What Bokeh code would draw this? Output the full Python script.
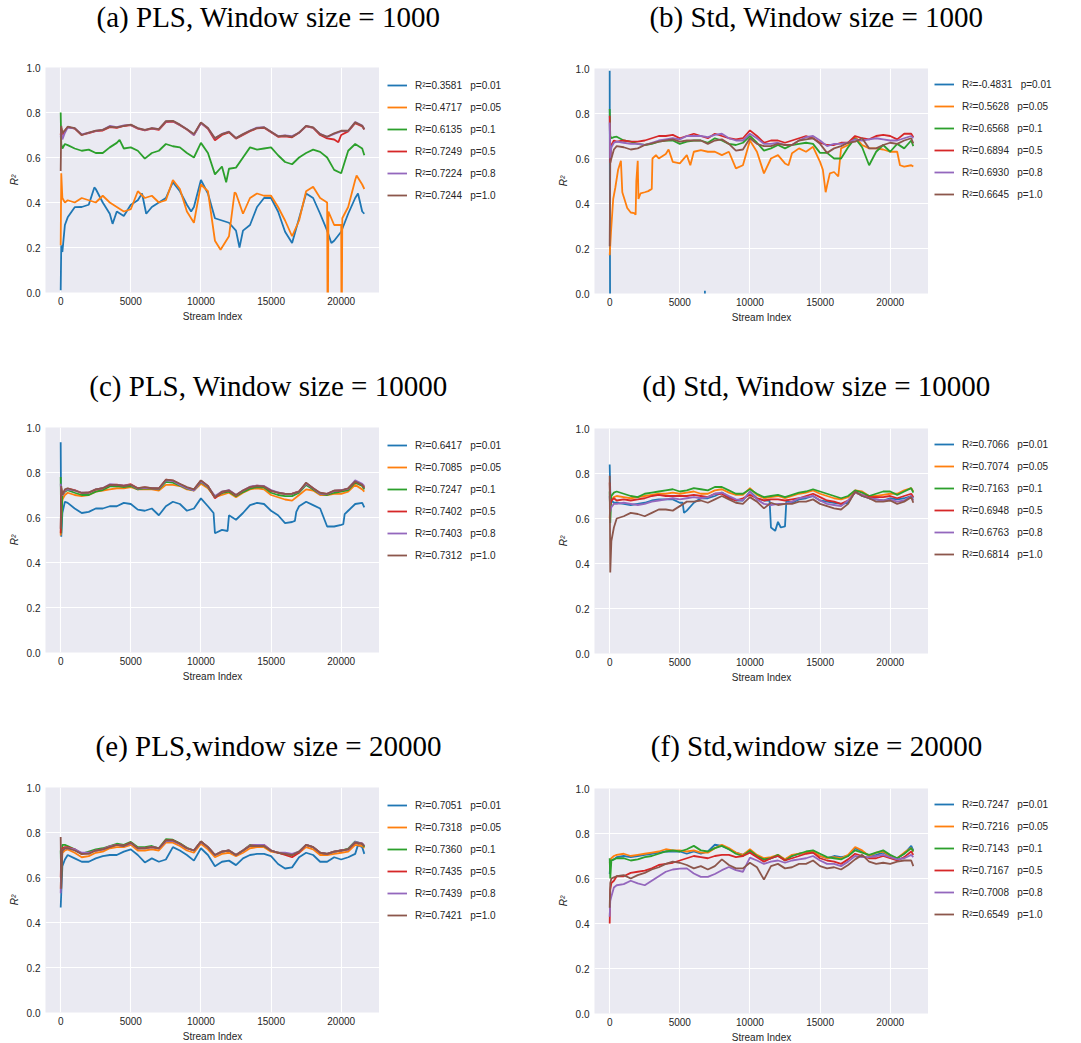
from bokeh.plotting import figure
from bokeh.models import Legend, LegendItem, Range1d, FixedTicker, NumeralTickFormatter
from bokeh.core.properties import value
from bokeh.layouts import column, row
from bokeh.embed import file_html
from bokeh.resources import INLINE

# ---------------------------------------------------------------------------
# Data: R^2 of the streaming regression versus stream index, for six sampling
# probabilities p, two methods (PLS / Std) and three window sizes.
# Most series are sampled on a common stream-index grid; sharp jumps are added
# as extra (index, value) points.
# ---------------------------------------------------------------------------
GRID = [0, 40, 120, 300] + list(range(500, 21501, 500)) + [21650]

P_VALUES = ["0.01", "0.05", "0.1", "0.5", "0.8", "1.0"]
COLORS = ["#1f77b4", "#ff7f0e", "#2ca02c", "#d62728", "#9467bd", "#8c564b"]

TITLES = ["(a) PLS, Window size = 1000", "(b) Std, Window size = 1000",
          "(c) PLS, Window size = 10000", "(d) Std, Window size = 10000",
          "(e) PLS,window size = 20000", "(f) Std,window size = 20000"]

A_R2 = ["0.3581", "0.4717", "0.6135", "0.7249", "0.7224", "0.7244"]
B_R2 = ["-0.4831", "0.5628", "0.6568", "0.6894", "0.6930", "0.6645"]
C_R2 = ["0.6417", "0.7085", "0.7247", "0.7402", "0.7403", "0.7312"]
D_R2 = ["0.7066", "0.7074", "0.7163", "0.6948", "0.6763", "0.6814"]
E_R2 = ["0.7051", "0.7318", "0.7360", "0.7435", "0.7439", "0.7421"]
F_R2 = ["0.7247", "0.7216", "0.7143", "0.7167", "0.7008", "0.6549"]

# (a) PLS, window 1000
A_P001 = [0.01, 0.21, 0.18, 0.30, 0.334, 0.379, 0.38, 0.39, 0.46, 0.40, 0.35, 0.36, 0.34, 0.39,
          0.41, 0.38, 0.38, 0.40, 0.42, 0.49, 0.45, 0.39, 0.38, 0.50, 0.44, 0.33, 0.32, 0.31,
          0.275, 0.275, 0.30, 0.38, 0.42, 0.42, 0.36, 0.27, 0.22, 0.33, 0.44, 0.42, 0.35, 0.275,
          0.23, 0.27, 0.35, 0.42, 0.36, 0.35]
A_P001_EXTRA = [(2400, 0.467), (3700, 0.305), (5800, 0.44), (6100, 0.35), (9300, 0.36),
                (12750, 0.20), (19300, 0.22), (21200, 0.44)]
A_P005 = [0.21, 0.53, 0.42, 0.40, 0.41, 0.40, 0.42, 0.41, 0.40, 0.43, 0.40, 0.38, 0.36, 0.37,
          0.45, 0.42, 0.43, 0.40, 0.41, 0.50, 0.46, 0.36, 0.31, 0.48, 0.45, 0.23, 0.20, 0.25,
          0.44, 0.35, 0.42, 0.44, 0.43, 0.43, 0.38, 0.32, 0.25, 0.32, 0.45, 0.47, 0.42, 0.40,
          0.30, 0.30, 0.38, 0.50, 0.48, 0.46]
A_P005_EXTRA = [(11400, 0.19), (12400, 0.445), (19040, -0.3), (19090, 0.36),
                (20030, -0.3), (20080, 0.33), (21100, 0.52)]
A_P01 = [0.80, 0.66, 0.64, 0.66, 0.655, 0.64, 0.63, 0.635, 0.62, 0.62, 0.645, 0.665, 0.64, 0.645,
         0.63, 0.595, 0.62, 0.63, 0.66, 0.65, 0.645, 0.62, 0.60, 0.665, 0.62, 0.525, 0.56, 0.55,
         0.555, 0.60, 0.645, 0.635, 0.64, 0.645, 0.61, 0.58, 0.57, 0.60, 0.62, 0.635, 0.625, 0.60,
         0.545, 0.53, 0.63, 0.66, 0.64, 0.61]
A_P01_EXTRA = [(4200, 0.678), (11800, 0.49)]
A_P05 = [0.70, 0.73, 0.70, 0.72, 0.735, 0.728, 0.70, 0.708, 0.717, 0.72, 0.735, 0.732, 0.74, 0.744,
         0.728, 0.72, 0.728, 0.723, 0.757, 0.76, 0.743, 0.724, 0.70, 0.753, 0.728, 0.676, 0.70,
         0.712, 0.684, 0.70, 0.717, 0.73, 0.732, 0.712, 0.692, 0.694, 0.69, 0.71, 0.738, 0.732,
         0.70, 0.685, 0.68, 0.70, 0.716, 0.753, 0.738, 0.724]
A_P05_EXTRA = [(19800, 0.668)]
A_P08 = [0.69, 0.72, 0.68, 0.71, 0.733, 0.73, 0.703, 0.71, 0.718, 0.723, 0.74, 0.735, 0.743, 0.745,
         0.73, 0.722, 0.73, 0.726, 0.76, 0.762, 0.745, 0.726, 0.70, 0.753, 0.73, 0.684, 0.705,
         0.715, 0.686, 0.703, 0.72, 0.733, 0.735, 0.714, 0.695, 0.698, 0.695, 0.71, 0.741, 0.733,
         0.705, 0.692, 0.705, 0.716, 0.718, 0.757, 0.742, 0.726]
A_P10 = [0.54, 0.74, 0.71, 0.72, 0.737, 0.731, 0.70, 0.711, 0.719, 0.723, 0.737, 0.734, 0.741,
         0.746, 0.731, 0.723, 0.731, 0.726, 0.762, 0.763, 0.746, 0.726, 0.704, 0.756, 0.731,
         0.686, 0.704, 0.714, 0.686, 0.704, 0.719, 0.731, 0.734, 0.714, 0.694, 0.697, 0.692,
         0.711, 0.741, 0.734, 0.704, 0.692, 0.707, 0.719, 0.719, 0.756, 0.741, 0.726]

# (b) Std, window 1000
B_P001_X = [0, 20, 50, 6700, 6790, 6830, 21650]
B_P001 = [0.99, 0.16, -0.6, -0.3, 0.012, -0.3, -0.6]
B_P005_X = [0, 100, 250, 400, 600, 800, 900, 1000, 1250, 1500, 1750, 1850, 1900, 2000, 2050,
            2200, 2500, 2750, 3000, 3050, 3300, 3500, 4000, 4200, 4500, 5000, 5500, 5750, 6000,
            6500, 7000, 7500, 8000, 8500, 9000, 9500, 10000, 10300, 10500, 11000, 11500, 12000,
            12500, 12750, 13000, 13500, 14000, 14500, 15000, 15200, 15400, 15500, 15700, 16000,
            16300, 16500, 17000, 17500, 18000, 18500, 19000, 19500, 20000, 20500, 20700, 21000,
            21500, 21650]
B_P005 = [0.17, 0.28, 0.42, 0.47, 0.55, 0.59, 0.45, 0.43, 0.38, 0.36, 0.357, 0.35, 0.50, 0.59,
          0.42, 0.445, 0.45, 0.455, 0.465, 0.60, 0.615, 0.60, 0.62, 0.64, 0.585, 0.578, 0.615,
          0.57, 0.63, 0.637, 0.63, 0.63, 0.615, 0.63, 0.556, 0.57, 0.68, 0.65, 0.63, 0.534, 0.60,
          0.615, 0.578, 0.57, 0.623, 0.645, 0.63, 0.652, 0.585, 0.55, 0.45, 0.48, 0.534, 0.54,
          0.52, 0.645, 0.66, 0.697, 0.66, 0.645, 0.645, 0.64, 0.63, 0.63, 0.57, 0.564, 0.57, 0.564]
B_P01 = [0.82, 0.70, 0.69, 0.695, 0.697, 0.68, 0.675, 0.665, 0.66, 0.665, 0.675, 0.68, 0.68, 0.665,
         0.675, 0.68, 0.68, 0.67, 0.69, 0.68, 0.665, 0.66, 0.67, 0.70, 0.67, 0.635, 0.645, 0.66,
         0.645, 0.66, 0.665, 0.67, 0.665, 0.625, 0.625, 0.60, 0.60, 0.65, 0.69, 0.65, 0.57, 0.63,
         0.66, 0.63, 0.665, 0.645, 0.68, 0.655]
B_P05 = [0.79, 0.58, 0.66, 0.68, 0.675, 0.68, 0.675, 0.675, 0.68, 0.69, 0.70, 0.70, 0.705, 0.69,
         0.70, 0.71, 0.70, 0.69, 0.71, 0.70, 0.69, 0.685, 0.69, 0.725, 0.70, 0.67, 0.68, 0.68,
         0.67, 0.68, 0.69, 0.70, 0.69, 0.67, 0.66, 0.66, 0.67, 0.67, 0.70, 0.69, 0.685, 0.70,
         0.705, 0.70, 0.685, 0.71, 0.71, 0.695]
B_P08 = [0.76, 0.60, 0.65, 0.67, 0.675, 0.67, 0.665, 0.665, 0.66, 0.67, 0.68, 0.685, 0.69, 0.685,
         0.70, 0.70, 0.70, 0.695, 0.705, 0.71, 0.69, 0.68, 0.68, 0.71, 0.69, 0.665, 0.665, 0.67,
         0.66, 0.66, 0.68, 0.695, 0.70, 0.68, 0.655, 0.665, 0.665, 0.67, 0.685, 0.68, 0.685, 0.69,
         0.685, 0.68, 0.68, 0.69, 0.70, 0.69]
B_P10 = [0.21, 0.58, 0.60, 0.64, 0.655, 0.65, 0.64, 0.645, 0.66, 0.667, 0.675, 0.68, 0.685, 0.675,
         0.68, 0.68, 0.68, 0.665, 0.68, 0.685, 0.665, 0.635, 0.64, 0.69, 0.665, 0.655, 0.655,
         0.665, 0.66, 0.66, 0.68, 0.685, 0.69, 0.665, 0.625, 0.645, 0.655, 0.67, 0.675, 0.69,
         0.645, 0.645, 0.66, 0.67, 0.665, 0.68, 0.69, 0.667]

# (c) PLS, window 10000
C_P001 = [0.934, 0.515, 0.62, 0.67, 0.665, 0.64, 0.62, 0.625, 0.64, 0.64, 0.65, 0.65, 0.665, 0.66,
          0.635, 0.63, 0.64, 0.61, 0.65, 0.67, 0.66, 0.63, 0.64, 0.685, 0.65, 0.53, 0.545, 0.61,
          0.59, 0.62, 0.655, 0.665, 0.66, 0.63, 0.61, 0.575, 0.58, 0.65, 0.67, 0.655, 0.64, 0.56,
          0.56, 0.567, 0.63, 0.66, 0.665, 0.645]
C_P001_EXTRA = [(10900, 0.62), (11900, 0.54), (16700, 0.585), (16800, 0.625),
                (20150, 0.57), (20250, 0.615)]
C_P005 = [0.52, 0.60, 0.68, 0.70, 0.71, 0.70, 0.695, 0.70, 0.715, 0.72, 0.725, 0.73, 0.73, 0.735,
          0.725, 0.725, 0.725, 0.72, 0.745, 0.745, 0.74, 0.725, 0.72, 0.75, 0.73, 0.69, 0.70,
          0.71, 0.69, 0.71, 0.725, 0.73, 0.725, 0.70, 0.69, 0.68, 0.675, 0.70, 0.725, 0.72, 0.70,
          0.70, 0.705, 0.705, 0.715, 0.745, 0.725, 0.715]
C_P01 = [0.78, 0.53, 0.70, 0.715, 0.722, 0.71, 0.70, 0.70, 0.715, 0.722, 0.738, 0.74, 0.735, 0.74,
         0.725, 0.73, 0.728, 0.725, 0.758, 0.755, 0.742, 0.728, 0.72, 0.758, 0.735, 0.69, 0.708,
         0.715, 0.695, 0.713, 0.728, 0.735, 0.733, 0.71, 0.70, 0.695, 0.695, 0.71, 0.745, 0.725,
         0.705, 0.70, 0.71, 0.715, 0.722, 0.755, 0.74, 0.725]
C_P05 = [0.53, 0.73, 0.70, 0.72, 0.728, 0.722, 0.708, 0.712, 0.724, 0.73, 0.745, 0.746, 0.742,
         0.748, 0.73, 0.734, 0.73, 0.728, 0.768, 0.764, 0.748, 0.733, 0.724, 0.764, 0.74, 0.685,
         0.712, 0.72, 0.698, 0.72, 0.735, 0.742, 0.738, 0.718, 0.71, 0.705, 0.706, 0.716, 0.752,
         0.73, 0.708, 0.705, 0.718, 0.72, 0.728, 0.76, 0.745, 0.735]
C_P08 = [0.75, 0.70, 0.70, 0.72, 0.725, 0.72, 0.71, 0.71, 0.725, 0.73, 0.748, 0.745, 0.742, 0.745,
         0.728, 0.732, 0.73, 0.728, 0.765, 0.762, 0.745, 0.73, 0.72, 0.76, 0.738, 0.695, 0.715,
         0.722, 0.70, 0.72, 0.737, 0.742, 0.74, 0.722, 0.712, 0.705, 0.705, 0.715, 0.75, 0.73,
         0.705, 0.705, 0.718, 0.722, 0.728, 0.765, 0.75, 0.74]
C_P10 = [0.55, 0.74, 0.70, 0.725, 0.73, 0.72, 0.71, 0.71, 0.725, 0.73, 0.745, 0.745, 0.74, 0.745,
         0.73, 0.735, 0.73, 0.73, 0.768, 0.765, 0.75, 0.735, 0.725, 0.765, 0.74, 0.69, 0.715,
         0.72, 0.70, 0.72, 0.735, 0.74, 0.738, 0.72, 0.71, 0.705, 0.705, 0.715, 0.755, 0.73, 0.71,
         0.705, 0.72, 0.72, 0.73, 0.76, 0.745, 0.73]

# (d) Std, window 10000
D_P001 = [0.84, 0.72, 0.68, 0.67, 0.67, 0.665, 0.66, 0.665, 0.67, 0.68, 0.685, 0.685, 0.685, 0.67,
          0.635, 0.67, 0.69, 0.69, 0.70, 0.715, 0.695, 0.68, 0.68, 0.72, 0.69, 0.68, 0.56, 0.585,
          0.565, 0.67, 0.685, 0.69, 0.70, 0.68, 0.675, 0.67, 0.665, 0.67, 0.72, 0.70, 0.69, 0.685,
          0.68, 0.69, 0.685, 0.69, 0.70, 0.69]
D_P001_EXTRA = [(5200, 0.67), (5300, 0.625), (11400, 0.68), (11800, 0.545), (12200, 0.56),
                (12600, 0.68)]
D_P005 = [0.60, 0.66, 0.68, 0.695, 0.70, 0.695, 0.69, 0.695, 0.70, 0.705, 0.71, 0.71, 0.715, 0.71,
          0.715, 0.72, 0.71, 0.71, 0.725, 0.73, 0.715, 0.705, 0.705, 0.735, 0.705, 0.69, 0.695,
          0.70, 0.69, 0.70, 0.71, 0.715, 0.725, 0.71, 0.70, 0.69, 0.685, 0.695, 0.725, 0.72, 0.70,
          0.70, 0.705, 0.71, 0.71, 0.725, 0.735, 0.72]
D_P01 = [0.72, 0.58, 0.70, 0.715, 0.72, 0.71, 0.70, 0.695, 0.71, 0.715, 0.72, 0.725, 0.73, 0.72,
         0.725, 0.735, 0.73, 0.725, 0.74, 0.74, 0.725, 0.71, 0.71, 0.73, 0.71, 0.695, 0.70, 0.705,
         0.695, 0.705, 0.715, 0.72, 0.73, 0.72, 0.71, 0.70, 0.69, 0.70, 0.725, 0.715, 0.70, 0.71,
         0.72, 0.72, 0.705, 0.72, 0.735, 0.715]
D_P05 = [0.76, 0.66, 0.68, 0.69, 0.68, 0.685, 0.68, 0.685, 0.69, 0.70, 0.705, 0.70, 0.70, 0.70,
         0.70, 0.705, 0.70, 0.695, 0.71, 0.71, 0.69, 0.68, 0.69, 0.705, 0.69, 0.68, 0.685, 0.685,
         0.68, 0.685, 0.69, 0.70, 0.71, 0.695, 0.68, 0.675, 0.665, 0.68, 0.715, 0.705, 0.695,
         0.695, 0.695, 0.70, 0.69, 0.70, 0.71, 0.695]
D_P08 = [0.70, 0.63, 0.65, 0.665, 0.665, 0.67, 0.665, 0.66, 0.665, 0.675, 0.68, 0.685, 0.69, 0.685,
         0.69, 0.695, 0.69, 0.695, 0.71, 0.715, 0.70, 0.685, 0.68, 0.72, 0.685, 0.665, 0.66,
         0.665, 0.665, 0.675, 0.69, 0.695, 0.70, 0.68, 0.665, 0.66, 0.655, 0.68, 0.715, 0.705,
         0.69, 0.685, 0.68, 0.685, 0.675, 0.68, 0.70, 0.68]
D_P10 = [0.79, 0.36, 0.50, 0.56, 0.60, 0.61, 0.625, 0.62, 0.61, 0.625, 0.64, 0.64, 0.635, 0.655,
         0.675, 0.675, 0.68, 0.67, 0.685, 0.70, 0.685, 0.67, 0.665, 0.695, 0.675, 0.645, 0.67,
         0.66, 0.665, 0.665, 0.675, 0.675, 0.685, 0.665, 0.655, 0.645, 0.64, 0.665, 0.72, 0.70,
         0.69, 0.675, 0.675, 0.68, 0.665, 0.675, 0.695, 0.67]

# (e) PLS, window 20000
E_P001 = [0.467, 0.53, 0.65, 0.68, 0.70, 0.685, 0.67, 0.67, 0.685, 0.695, 0.70, 0.70, 0.715, 0.725,
          0.70, 0.667, 0.685, 0.67, 0.68, 0.735, 0.72, 0.70, 0.675, 0.73, 0.70, 0.65, 0.67, 0.675,
          0.655, 0.685, 0.70, 0.705, 0.705, 0.695, 0.66, 0.64, 0.645, 0.69, 0.71, 0.70, 0.67,
          0.67, 0.69, 0.68, 0.69, 0.705, 0.735, 0.705]
E_P001_EXTRA = [(21200, 0.745)]
E_P005 = [0.55, 0.65, 0.71, 0.72, 0.725, 0.71, 0.69, 0.695, 0.71, 0.715, 0.73, 0.735, 0.735, 0.745,
          0.72, 0.72, 0.725, 0.72, 0.755, 0.755, 0.74, 0.72, 0.71, 0.75, 0.725, 0.69, 0.705, 0.71,
          0.695, 0.71, 0.73, 0.735, 0.735, 0.715, 0.71, 0.705, 0.70, 0.71, 0.735, 0.725, 0.70,
          0.70, 0.705, 0.71, 0.715, 0.745, 0.74, 0.73]
E_P01 = [0.72, 0.60, 0.745, 0.745, 0.74, 0.725, 0.705, 0.715, 0.725, 0.73, 0.74, 0.75, 0.745,
         0.758, 0.735, 0.735, 0.74, 0.73, 0.77, 0.768, 0.752, 0.732, 0.72, 0.76, 0.735, 0.70,
         0.715, 0.72, 0.70, 0.72, 0.745, 0.742, 0.74, 0.72, 0.71, 0.705, 0.70, 0.715, 0.745,
         0.735, 0.71, 0.705, 0.715, 0.72, 0.728, 0.76, 0.75, 0.735]
E_P05 = [0.60, 0.70, 0.73, 0.735, 0.735, 0.725, 0.705, 0.71, 0.72, 0.725, 0.738, 0.745, 0.742,
         0.755, 0.73, 0.732, 0.735, 0.73, 0.765, 0.765, 0.75, 0.73, 0.72, 0.76, 0.735, 0.70,
         0.715, 0.72, 0.70, 0.72, 0.742, 0.745, 0.745, 0.72, 0.71, 0.70, 0.69, 0.71, 0.745,
         0.735, 0.71, 0.705, 0.715, 0.72, 0.725, 0.755, 0.75, 0.74]
E_P08 = [0.53, 0.68, 0.72, 0.73, 0.73, 0.725, 0.71, 0.71, 0.72, 0.725, 0.738, 0.745, 0.74, 0.752,
         0.73, 0.73, 0.735, 0.73, 0.762, 0.762, 0.748, 0.73, 0.72, 0.758, 0.735, 0.70, 0.715,
         0.72, 0.70, 0.72, 0.742, 0.745, 0.745, 0.72, 0.71, 0.71, 0.705, 0.715, 0.745, 0.735,
         0.71, 0.705, 0.715, 0.72, 0.725, 0.758, 0.752, 0.74]
E_P10 = [0.78, 0.55, 0.72, 0.73, 0.73, 0.72, 0.705, 0.705, 0.72, 0.725, 0.735, 0.745, 0.74, 0.755,
         0.73, 0.73, 0.735, 0.73, 0.765, 0.765, 0.75, 0.73, 0.72, 0.76, 0.735, 0.70, 0.715, 0.72,
         0.70, 0.72, 0.74, 0.74, 0.74, 0.72, 0.71, 0.705, 0.70, 0.715, 0.745, 0.735, 0.71, 0.705,
         0.715, 0.72, 0.725, 0.755, 0.75, 0.74]

# (f) Std, window 20000
F_P001 = [0.62, 0.66, 0.68, 0.685, 0.695, 0.70, 0.695, 0.70, 0.705, 0.71, 0.715, 0.72, 0.72, 0.72,
          0.71, 0.72, 0.71, 0.72, 0.75, 0.745, 0.73, 0.715, 0.705, 0.725, 0.70, 0.685, 0.69, 0.70,
          0.685, 0.70, 0.71, 0.715, 0.715, 0.70, 0.69, 0.70, 0.695, 0.70, 0.735, 0.72, 0.70,
          0.705, 0.715, 0.70, 0.69, 0.71, 0.745, 0.725]
F_P005 = [0.67, 0.68, 0.69, 0.70, 0.705, 0.71, 0.70, 0.705, 0.71, 0.715, 0.72, 0.73, 0.725, 0.725,
          0.72, 0.725, 0.715, 0.715, 0.735, 0.75, 0.735, 0.715, 0.705, 0.73, 0.705, 0.69, 0.695,
          0.705, 0.685, 0.705, 0.71, 0.715, 0.72, 0.70, 0.69, 0.695, 0.69, 0.705, 0.74, 0.725,
          0.70, 0.715, 0.72, 0.70, 0.69, 0.715, 0.735, 0.72]
F_P01 = [0.69, 0.60, 0.68, 0.685, 0.69, 0.69, 0.68, 0.685, 0.695, 0.70, 0.71, 0.72, 0.725, 0.72,
         0.73, 0.745, 0.725, 0.72, 0.735, 0.745, 0.73, 0.71, 0.70, 0.725, 0.70, 0.685, 0.69, 0.705,
         0.68, 0.70, 0.71, 0.72, 0.725, 0.71, 0.695, 0.69, 0.685, 0.70, 0.725, 0.715, 0.705,
         0.715, 0.725, 0.705, 0.69, 0.71, 0.735, 0.72]
F_P05 = [0.40, 0.55, 0.58, 0.59, 0.61, 0.61, 0.625, 0.63, 0.635, 0.645, 0.66, 0.665, 0.67, 0.68,
         0.69, 0.70, 0.695, 0.69, 0.70, 0.705, 0.705, 0.695, 0.70, 0.715, 0.695, 0.675, 0.69, 0.70,
         0.68, 0.69, 0.70, 0.71, 0.715, 0.69, 0.68, 0.675, 0.665, 0.685, 0.71, 0.70, 0.69, 0.69,
         0.70, 0.69, 0.68, 0.695, 0.72, 0.705]
F_P08 = [0.43, 0.50, 0.52, 0.56, 0.57, 0.575, 0.59, 0.578, 0.57, 0.59, 0.61, 0.63, 0.64, 0.644,
         0.645, 0.622, 0.607, 0.607, 0.62, 0.637, 0.651, 0.637, 0.63, 0.693, 0.68, 0.665, 0.675,
         0.68, 0.67, 0.68, 0.685, 0.69, 0.70, 0.68, 0.665, 0.665, 0.655, 0.675, 0.70, 0.695,
         0.695, 0.70, 0.705, 0.695, 0.685, 0.69, 0.705, 0.695]
F_P10 = [0.47, 0.58, 0.60, 0.605, 0.61, 0.615, 0.60, 0.615, 0.625, 0.64, 0.65, 0.665, 0.675, 0.67,
         0.66, 0.645, 0.655, 0.64, 0.655, 0.685, 0.66, 0.645, 0.645, 0.67, 0.65, 0.595, 0.655,
         0.665, 0.645, 0.65, 0.665, 0.665, 0.68, 0.655, 0.645, 0.65, 0.64, 0.66, 0.685, 0.705,
         0.675, 0.665, 0.67, 0.665, 0.675, 0.68, 0.68, 0.655]

X_TICKS = [0, 5000, 10000, 15000, 20000]
Y_TICKS = [0.0, 0.2, 0.4, 0.6, 0.8, 1.0]


def on_grid(values, extra=()):
    """Merge grid samples with extra (index, value) points, sorted by index."""
    if len(values) != len(GRID):
        print("warning: series length", len(values), "!=", len(GRID))
    pts = dict(zip(GRID, values))
    for x, y in extra:
        pts[x] = y
    xs = sorted(pts)
    return xs, [pts[x] for x in xs]


TEXT = "#262626"
SANS = "Liberation Sans"
LINE_W = 1.8
FRAME_W = 334
FRAME_H = 225
TOP = 8          # space above the plotting area inside the chart figure
TITLE_H = 59     # height of the caption strip above each chart


def bare(width, height, x_range, y_range, **kw):
    """A figure with no axes, grid or outline, used for captions and legends."""
    f = figure(width=width, height=height, output_backend="svg", toolbar_location=None,
               x_range=x_range, y_range=y_range,
               x_axis_location=None, y_axis_location=None, **kw)
    f.grid.visible = False
    f.outline_line_color = None
    f.background_fill_color = "white"
    f.border_fill_color = "white"
    return f


def caption(text, width, cx, cy):
    f = bare(width, TITLE_H, Range1d(0, width), Range1d(0, TITLE_H), min_border=0)
    f.text(x=[cx], y=[TITLE_H - cy], text=[text], text_align="center",
           text_baseline="middle", text_font=value("Liberation Serif"),
           text_font_size="29px", text_color="black")
    return f


def chart(series, left, bottom):
    p = figure(frame_width=FRAME_W, frame_height=FRAME_H, title=None,
               output_backend="svg", toolbar_location=None,
               x_range=Range1d(-1083, 22733), y_range=Range1d(0, 1),
               min_border_left=left, min_border_right=0,
               min_border_top=TOP, min_border_bottom=bottom,
               background_fill_color="#EAEAF2", border_fill_color="white")
    p.outline_line_color = None

    for (xs, ys), color in zip(series, COLORS):
        p.line(xs, ys, line_color=color, line_width=LINE_W)

    for ax in (p.xaxis[0], p.yaxis[0]):
        ax.axis_line_color = None
        ax.major_tick_line_color = None
        ax.minor_tick_line_color = None
        ax.major_label_text_font = SANS
        ax.major_label_text_font_size = "10px"
        ax.major_label_text_color = TEXT
        ax.axis_label_text_font = SANS
        ax.axis_label_text_font_size = "10px"
        ax.axis_label_text_color = TEXT
        ax.major_tick_out = 0
        ax.major_tick_in = 0

    p.xaxis.ticker = FixedTicker(ticks=X_TICKS)
    p.yaxis.ticker = FixedTicker(ticks=Y_TICKS)
    p.xaxis.formatter = NumeralTickFormatter(format="0")
    p.yaxis.formatter = NumeralTickFormatter(format="0.0")
    p.xaxis.axis_label = "Stream Index"
    p.xaxis.axis_label_text_font_style = "normal"
    p.xaxis.major_label_standoff = 4
    p.xaxis.axis_label_standoff = 3
    p.yaxis.axis_label = "R\u00b2"
    p.yaxis.axis_label_text_font_style = "italic"
    p.yaxis.major_label_standoff = 5
    p.yaxis.axis_label_standoff = 4

    p.xgrid.grid_line_color = "white"
    p.ygrid.grid_line_color = "white"
    p.xgrid.grid_line_width = 1.1
    p.ygrid.grid_line_width = 1.1
    return p


def legend_box(series, r2, width, height, top, pad):
    # The legend gets its own strip; the series are attached to it as legend
    # renderers but its ranges are set away from the data, so only the
    # legend samples appear.
    f = bare(width, height, Range1d(-3, -2), Range1d(-3, -2),
             min_border_left=0, min_border_right=0, min_border_bottom=0,
             min_border_top=top)
    items = []
    for (xs, ys), color, r, pv in zip(series, COLORS, r2, P_VALUES):
        rend = f.line(xs, ys, line_color=color, line_width=LINE_W)
        items.append(LegendItem(label=f"R\u00b2={r}   p={pv}", renderers=[rend]))
    f.add_layout(Legend(items=items, location="top_left", margin=0, padding=pad,
                        spacing=2, label_height=20, glyph_height=20, glyph_width=20,
                        label_standoff=8, background_fill_alpha=0, border_line_alpha=0,
                        label_text_font=SANS, label_text_font_size="10px",
                        label_text_color=TEXT))
    return f


def panel(title, series, r2, side, bottom, title_cy):
    if side == "left":
        total, left, cx, leg_top, pad = 540, 45, 268, 7, 8
    else:
        total, left, cx, leg_top, pad = 541, 54, 276, 9, 6
    plot_h = TOP + FRAME_H + bottom
    p = chart(series, left, bottom)
    leg = legend_box(series, r2, total - left - FRAME_W, plot_h, leg_top, pad)
    return column(caption(title, total, cx, title_cy), row(p, leg))


panel_a = [on_grid(A_P001, A_P001_EXTRA), on_grid(A_P005, A_P005_EXTRA),
           on_grid(A_P01, A_P01_EXTRA), on_grid(A_P05, A_P05_EXTRA),
           on_grid(A_P08), on_grid(A_P10)]
panel_b = [(B_P001_X, B_P001), (B_P005_X, B_P005), on_grid(B_P01),
           on_grid(B_P05), on_grid(B_P08), on_grid(B_P10)]
panel_c = [on_grid(C_P001, C_P001_EXTRA), on_grid(C_P005), on_grid(C_P01),
           on_grid(C_P05), on_grid(C_P08), on_grid(C_P10)]
panel_d = [on_grid(D_P001, D_P001_EXTRA), on_grid(D_P005), on_grid(D_P01),
           on_grid(D_P05), on_grid(D_P08), on_grid(D_P10)]
panel_e = [on_grid(E_P001, E_P001_EXTRA), on_grid(E_P005), on_grid(E_P01),
           on_grid(E_P05), on_grid(E_P08), on_grid(E_P10)]
panel_f = [on_grid(F_P001), on_grid(F_P005), on_grid(F_P01),
           on_grid(F_P05), on_grid(F_P08), on_grid(F_P10)]

layout = column(
    row(panel(TITLES[0], panel_a, A_R2, "left", 68, 16),
        panel(TITLES[1], panel_b, B_R2, "right", 68, 16)),
    row(panel(TITLES[2], panel_c, C_R2, "left", 68, 25),
        panel(TITLES[3], panel_d, D_R2, "right", 68, 25)),
    row(panel(TITLES[4], panel_e, E_R2, "left", 31, 25),
        panel(TITLES[5], panel_f, F_R2, "right", 31, 25)),
)

with open("out.html", "w") as fh:
    fh.write(file_html(layout, INLINE, "R2 streams"))
